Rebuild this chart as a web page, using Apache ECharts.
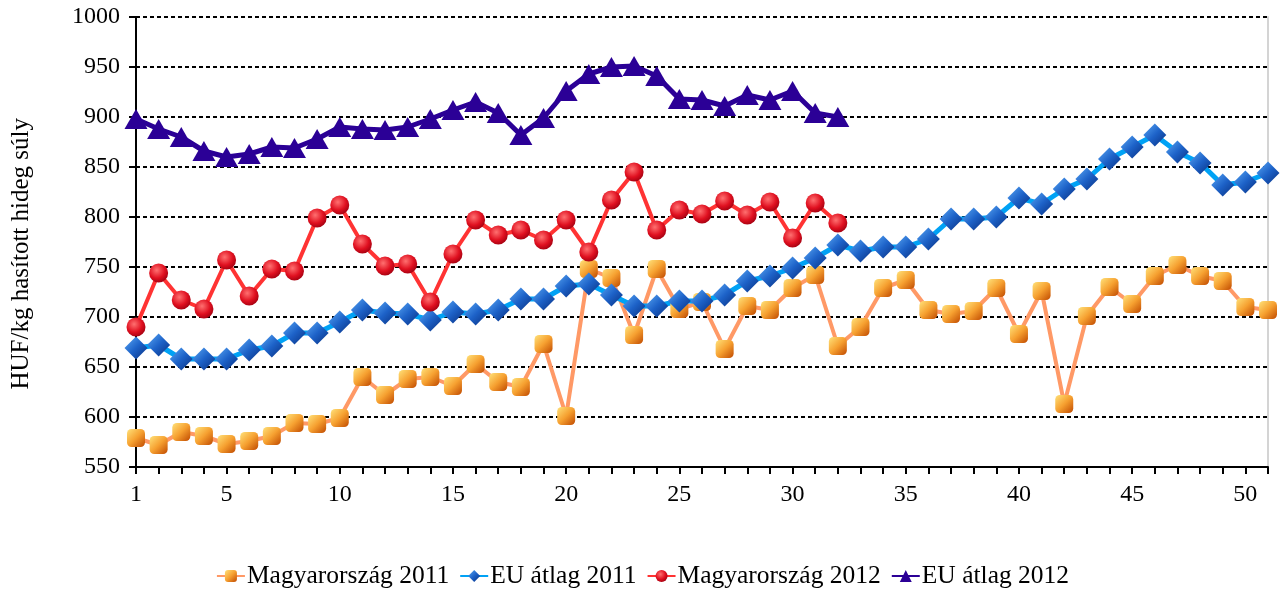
<!DOCTYPE html>
<html>
<head>
<meta charset="utf-8">
<script src="https://cdn.jsdelivr.net/npm/echarts@6/dist/echarts.min.js"></script>
<style>
html,body{margin:0;padding:0;background:#fff;}
#chart{width:1285px;height:598px;}
</style>
</head>
<body>
<div id="chart"></div>
<script>
const weeks = ['1','2','3','4','5','6','7','8','9','10','11','12','13','14','15','16','17','18','19','20','21','22','23','24','25','26','27','28','29','30','31','32','33','34','35','36','37','38','39','40','41','42','43','44','45','46','47','48','49','50','51'];
const hu2011 = [579,572,585,581,573,576,581,594,593,599,640,622,638,640,631,653,635,630,673,601,748,739,682,748,708,715,668,711,707,729,742,671,690,729,737,707,703,706,729,683,726,613,701,730,713,741,752,741,736,710,707];
const eu2011 = [669,672,658,658,658,667,671,684,684,695,707,704,703,697,705,703,707,718,718,731,733,722,711,711,716,716,722,736,741,749,759,772,766,770,770,778,798,798,800,819,813,828,838,858,870,882,865,854,832,835,844];
const hu2012 = [690,744,717,708,757,721,748,746,799,812,773,751,753,715,763,797,782,787,777,797,765,817,845,787,807,803,816,802,815,779,814,794];
const eu2012 = [898,888,880,866,860,863,870,869,878,890,888,887,890,898,907,915,904,882,899,926,943,950,951,941,918,917,911,922,917,926,904,900];
const seriesNames = ['Magyarország 2011','EU átlag 2011','Magyarország 2012','EU átlag 2012'];
const yTitle = 'HUF/kg hasított hideg súly';
const labelWeeks = ['1','5','10','15','20','25','30','35','40','45','50'];

const FONT = "'Liberation Serif','Times New Roman',serif";
const G = echarts.graphic;
const chart = echarts.init(document.getElementById('chart'));
chart.setOption({
  animation:false,
  backgroundColor:'#fff',
  textStyle:{fontFamily:FONT,color:'#000'},
  grid:{left:136,right:17,top:17,bottom:131,containLabel:false},
  graphic:[{type:'text',left:9,top:118,rotation:Math.PI/2,
    style:{text:yTitle,font:"25px 'Liberation Serif','Times New Roman',serif",fill:'#000'}}],
  legend:{
    bottom:4,left:'center',itemWidth:28,itemHeight:15,itemGap:10,
    textStyle:{fontFamily:FONT,fontSize:25.5,color:'#000',padding:[0,0,0,-3]},
    data:seriesNames
  },
  xAxis:{
    type:'category',data:weeks,boundaryGap:false,
    axisLine:{lineStyle:{color:'#000',width:2}},
    axisTick:{show:true,interval:0,length:7,lineStyle:{color:'#000',width:2}},
    axisLabel:{interval:function(i,v){return labelWeeks.indexOf(v)>=0;},margin:16,fontSize:24,color:'#000',fontFamily:FONT},
    splitLine:{show:false}
  },
  yAxis:[{
    type:'value',min:550,max:1000,interval:50,
    axisLine:{show:true,lineStyle:{color:'#000',width:2}},
    axisTick:{show:true,length:7,lineStyle:{color:'#000',width:2}},
    axisLabel:{margin:16,fontSize:24,color:'#000',fontFamily:FONT,formatter:function(v){return String(v);}},
    splitLine:{show:true,lineStyle:{color:'#000',width:2,type:[4,3]}}
  },{
    type:'value',min:550,max:1000,interval:50,position:'right',
    axisLine:{show:true,lineStyle:{color:'#d4d4d4',width:2}},
    axisTick:{show:false},axisLabel:{show:false},splitLine:{show:false}
  }],
  series:[
    {name:seriesNames[0],type:'line',data:hu2011,symbol:'roundRect',symbolSize:18,showAllSymbol:true,
     lineStyle:{color:'#FF9966',width:4},
     itemStyle:{color:new G.LinearGradient(0,0,1,1,[{offset:0,color:'#FFE27A'},{offset:0.5,color:'#F6A030'},{offset:1,color:'#C04A00'}])}},
    {name:seriesNames[1],type:'line',data:eu2011,symbol:'diamond',symbolSize:23,showAllSymbol:true,
     lineStyle:{color:'#00A2F5',width:5},
     itemStyle:{color:new G.LinearGradient(0,0,1,1,[{offset:0,color:'#5AA8F5'},{offset:0.5,color:'#1D62C8'},{offset:1,color:'#082F80'}])}},
    {name:seriesNames[2],type:'line',data:hu2012,symbol:'circle',symbolSize:19,showAllSymbol:true,
     lineStyle:{color:'#FF3333',width:4},
     itemStyle:{color:new G.RadialGradient(0.4,0.35,0.7,[{offset:0,color:'#FF7070'},{offset:0.6,color:'#E01020'},{offset:1,color:'#A00010'}])}},
    {name:seriesNames[3],type:'line',data:eu2012,symbol:'triangle',symbolSize:[23,20],showAllSymbol:true,
     lineStyle:{color:'#2B0096',width:5},
     itemStyle:{color:'#2B0096'}}
  ]
});
</script>
</body>
</html>
